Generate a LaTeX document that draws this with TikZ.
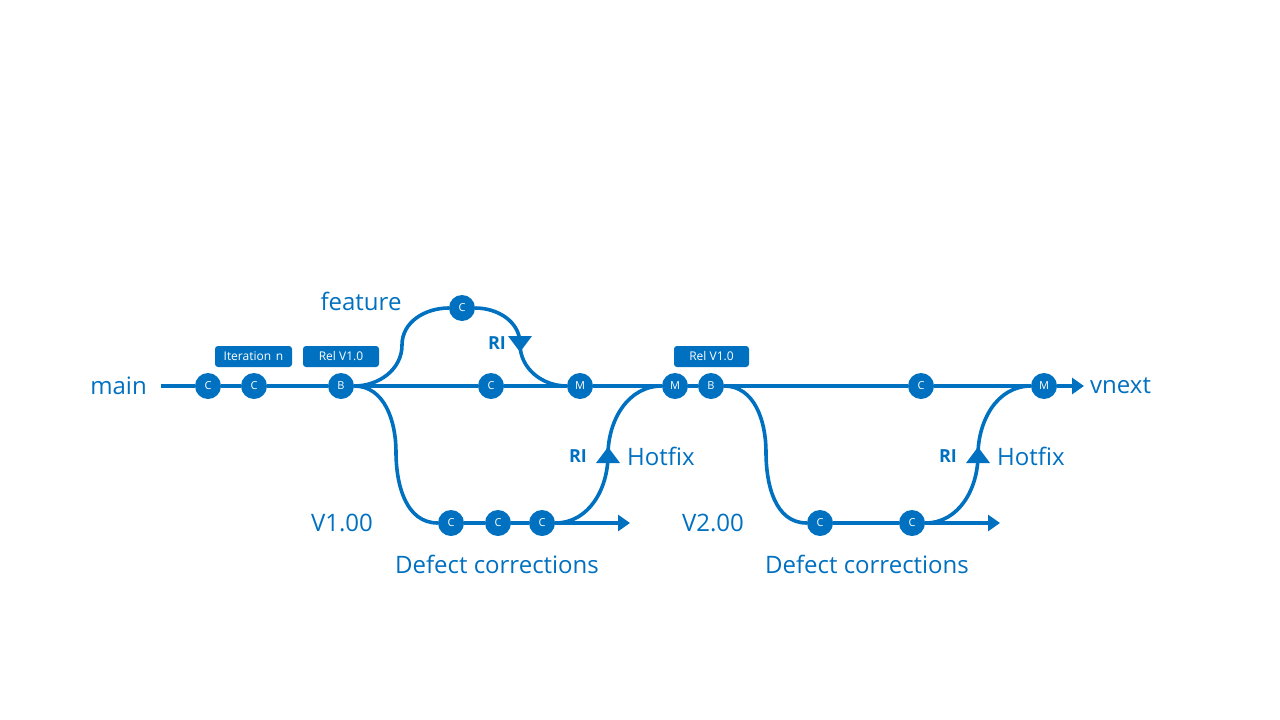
\documentclass[tikz,border=0pt]{standalone}
\usepackage{fontspec}
\setmainfont{Open Sans}
\usetikzlibrary{arrows.meta,calc}
\definecolor{gblue}{RGB}{0,112,192}
\tikzset{
  gline/.style={draw=gblue,line width=3.6pt},
  commit/.style={circle,fill=gblue,minimum size=26pt,inner sep=0pt,text=white,font=\fontsize{11}{12}\selectfont},
  tagbox/.style={rectangle,rounded corners=3pt,fill=gblue,text=white,minimum height=21pt,inner sep=0pt,font=\fontsize{12}{14}\selectfont},
  lbl/.style={text=gblue,inner sep=0pt,font=\fontsize{24}{28}\selectfont},
  rilbl/.style={text=gblue,inner sep=0pt,font=\bfseries\fontsize{18}{20}\selectfont},
  endarrow/.style={-{Triangle[length=12pt,width=16pt]}},
}
\begin{document}
\begin{tikzpicture}[x=1pt,y=-1pt]
\useasboundingbox (0,0) rectangle (1280,720);
% main line commits
\node[commit] (c1) at (208,386) {C};
\node[commit] (c2) at (254,386) {C};
\node[commit] (b1) at (341,386) {B};
\node[commit] (c3) at (491,386) {C};
\node[commit] (m1) at (580,386) {M};
\node[commit] (m2) at (675,386) {M};
\node[commit] (b2) at (711,386) {B};
\node[commit] (c4) at (921,386) {C};
\node[commit] (m3) at (1044,386) {M};
% feature
\node[commit] (fc) at (462,308) {C};
% V1 branch
\node[commit] (v1a) at (451,523) {C};
\node[commit] (v1b) at (498,523) {C};
\node[commit] (v1c) at (542,523) {C};
% V2 branch
\node[commit] (v2a) at (820,523) {C};
\node[commit] (v2b) at (912,523) {C};
% coordinates
\coordinate (mstart) at (161,386);
\coordinate (mend) at (1084,386);
\coordinate (f1) at (402,345);
\coordinate (ri1) at (520,344);
\coordinate (d1) at (396,452);
\coordinate (ri2) at (608,455);
\coordinate (e1) at (630,523);
\coordinate (d2) at (766,452);
\coordinate (ri3) at (978,455);
\coordinate (e2) at (1000,523);
% connectors
\draw[gline] (mstart) -- (c1) -- (c2) -- (b1) -- (c3) -- (m1) -- (m2) -- (b2) -- (c4) -- (m3);
\draw[gline,endarrow] (m3) -- (mend);
\draw[gline] (b1.east) to[out=0,in=-90] (f1) to[out=90,in=180] (fc.west);
\draw[gline] (fc.east) to[out=0,in=90] (ri1) to[out=-90,in=180] (m1.west);
\draw[gline] (b1.east) to[out=0,in=90] (d1) to[out=-90,in=180] (v1a.west);
\draw[gline] (v1a) -- (v1b) -- (v1c);
\draw[gline,endarrow] (v1c) -- (e1);
\draw[gline] (v1c.east) to[out=0,in=-90] (ri2) to[out=90,in=180] (m2.west);
\draw[gline] (b2.east) to[out=0,in=90] (d2) to[out=-90,in=180] (v2a.west);
\draw[gline] (v2a) -- (v2b);
\draw[gline,endarrow] (v2b) -- (e2);
\draw[gline] (v2b.east) to[out=0,in=-90] (ri3) to[out=90,in=180] (m3.west);
% RI arrowheads
\fill[gblue,shift={(ri1)}] (-12,-8) -- (12,-8) -- (0,8) -- cycle;
\fill[gblue,shift={(ri2)}] (-12,8) -- (12,8) -- (0,-8) -- cycle;
\fill[gblue,shift={(ri3)}] (-12,8) -- (12,8) -- (0,-8) -- cycle;
% tags
\node[tagbox,minimum width=77pt] (t1) at (253.5,356.5) {Iteration\hspace{0.4em}n};
\node[tagbox,minimum width=76pt] (t2) at (341,356.5) {Rel V1.0};
\node[tagbox,minimum width=75pt] (t3) at (711.5,356.5) {Rel V1.0};
% labels
\node[lbl,anchor=east] (lmain) at (147,386) {main};
\node[lbl] (lfeat) at (361,301) {feature};
\node[lbl,anchor=west] (lvnext) at (1090,386) {vnext};
\node[lbl,anchor=west] (lhf1) at (627,456) {Hotfix};
\node[lbl,anchor=west] (lhf2) at (997,456) {Hotfix};
\node[lbl] (lv1) at (342,523) {V1.00};
\node[lbl] (lv2) at (713,523) {V2.00};
\node[lbl] (ld1) at (497,564) {Defect corrections};
\node[lbl] (ld2) at (867,564) {Defect corrections};
\node[rilbl] (ri1l) at (497,343) {RI};
\node[rilbl] (ri2l) at (578,456) {RI};
\node[rilbl] (ri3l) at (948,456) {RI};
\end{tikzpicture}
\end{document}
